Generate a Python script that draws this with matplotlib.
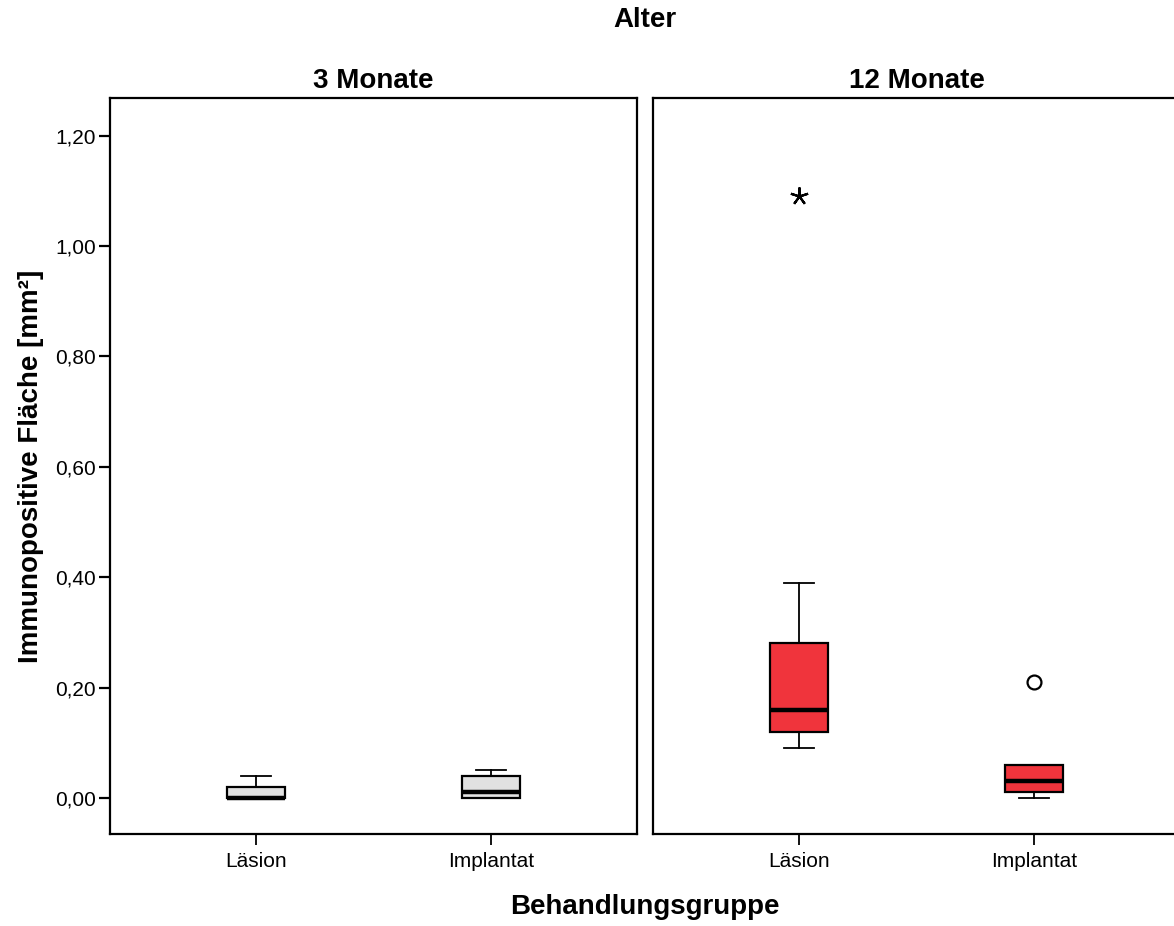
import matplotlib.pyplot as plt

plt.rcParams['font.family'] = ['Liberation Sans', 'DejaVu Sans']

# five-number summaries per age group and treatment group
groups = ["Läsion", "Implantat"]
ages = ["3 Monate", "12 Monate"]
box_colors = ["#e1e1e1", "#f0343c"]

whislo = [[0.00, 0.00], [0.09, 0.00]]
q1 = [[0.00, 0.00], [0.12, 0.01]]
med = [[0.00, 0.01], [0.16, 0.03]]
q3 = [[0.02, 0.04], [0.28, 0.06]]
whishi = [[0.04, 0.05], [0.39, 0.06]]
outliers = [[[], []], [[], [0.21]]]
extremes = [[[], []], [[1.09], []]]

yticks = [0.0, 0.2, 0.4, 0.6, 0.8, 1.0, 1.2]

fig = plt.figure(figsize=(11.74, 9.26), dpi=100)
W, H = 1174, 926
ax_l = fig.add_axes([110 / W, (H - 834) / H, 527 / W, 736 / H])
ax_r = fig.add_axes([653 / W, (H - 834) / H, 527 / W, 736 / H], sharey=ax_l)

for i, ax in enumerate([ax_l, ax_r]):
    stats = []
    for j in range(len(groups)):
        stats.append(dict(whislo=whislo[i][j], q1=q1[i][j], med=med[i][j],
                          q3=q3[i][j], whishi=whishi[i][j], fliers=[]))
    ax.bxp(stats, positions=[1, 2], widths=0.25, patch_artist=True,
           showfliers=False,
           boxprops=dict(facecolor=box_colors[i], edgecolor="black", linewidth=1.6),
           medianprops=dict(color="black", linewidth=3.2, solid_capstyle="butt"),
           whiskerprops=dict(color="black", linewidth=1.3),
           capprops=dict(color="black", linewidth=1.3),
           capwidths=0.13)
    for j in range(len(groups)):
        for v in outliers[i][j]:
            ax.plot(j + 1, v, marker="o", markersize=10, markerfacecolor="white",
                    markeredgecolor="black", markeredgewidth=1.6, linestyle="none")
        for v in extremes[i][j]:
            ax.plot(j + 1, v, marker=(5, 2, 0), markersize=13, color="black",
                    markeredgewidth=1.6, linestyle="none")
    ax.set_xlim(0.379, 2.621)
    ax.set_ylim(-0.0653, 1.268)
    ax.set_xticks([1, 2])
    ax.set_xticklabels(groups, fontsize=15)
    ax.set_title(ages[i], fontsize=20, fontweight="bold", pad=7)
    for s in ax.spines.values():
        s.set_linewidth(1.6)
    ax.tick_params(axis="x", direction="out", length=8, width=1.3, pad=5)

ax_l.set_yticks(yticks)
ax_l.set_yticklabels([f"{v:.2f}".replace(".", ",") for v in yticks], fontsize=15)
ax_l.tick_params(axis="y", direction="out", length=8, width=1.6, pad=2)
ax_l.set_ylabel("Immunopositive Fläche [mm²]", fontsize=20, fontweight="bold", labelpad=8)
ax_r.tick_params(axis="y", left=False, labelleft=False)
ax_r.spines["right"].set_visible(False)

fig.text(645 / W, 1 - 20 / H, "Alter", ha="center", va="center", fontsize=20, fontweight="bold")
fig.text(645 / W, 1 - 907 / H, "Behandlungsgruppe", ha="center", va="center",
         fontsize=20, fontweight="bold")

fig.savefig("out.png", dpi=100)
